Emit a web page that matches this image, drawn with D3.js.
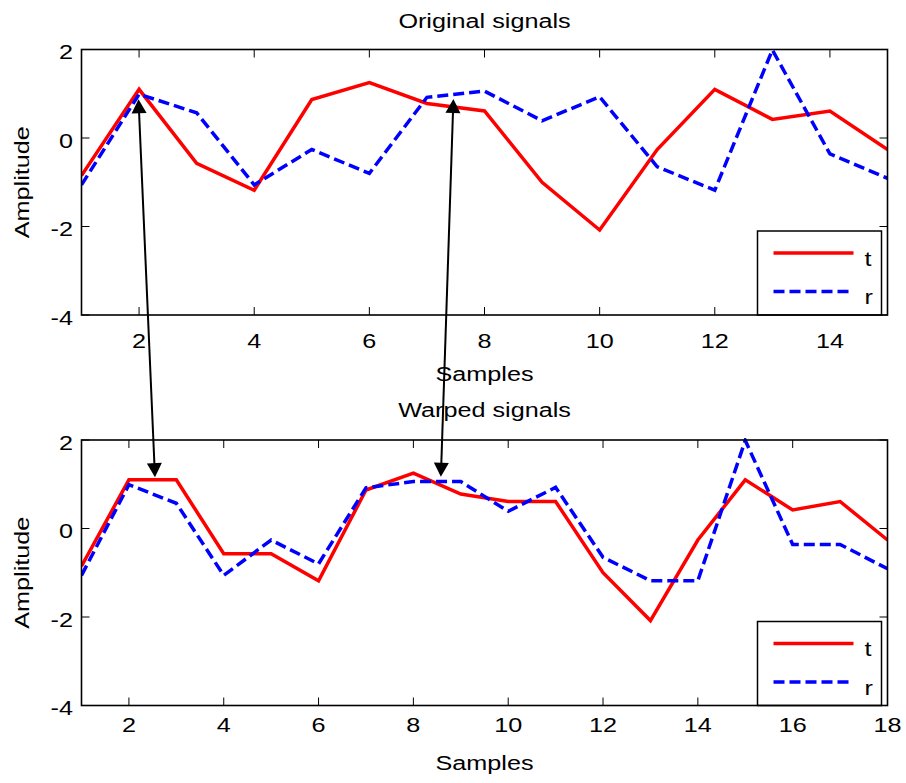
<!DOCTYPE html>
<html>
<head>
<meta charset="utf-8">
<script src="https://cdnjs.cloudflare.com/ajax/libs/d3/7.8.5/d3.min.js"></script>
<style>
  html, body { margin: 0; padding: 0; background: #fff; }
  svg { display: block; }
  text { font-family: "Liberation Sans", Arial, Helvetica, sans-serif; fill: #000; }
</style>
</head>
<body>
<svg id="chart" width="906" height="783"></svg>
<script>
// Original sequences (sample index 1..15)
const tOrig = [-0.85, 1.10, -0.57, -1.18, 0.87, 1.25, 0.78, 0.61, -1.00, -2.08, -0.26, 1.10, 0.42, 0.61, -0.26];
const rOrig = [-1.06, 0.99, 0.57, -1.06, -0.26, -0.80, 0.92, 1.06, 0.39, 0.93, -0.65, -1.18, 1.99, -0.36, -0.91];

// Sequences after alignment (sample index 1..18)
const tWarp = [-0.85, 1.10, 1.10, -0.57, -0.57, -1.18, 0.87, 1.25, 0.78, 0.61, 0.61, -1.00, -2.08, -0.26, 1.10, 0.42, 0.61, -0.26];
const rWarp = [-1.06, 0.99, 0.57, -1.06, -0.26, -0.80, 0.92, 1.06, 1.06, 0.39, 0.93, -0.65, -1.18, -1.18, 1.99, -0.36, -0.36, -0.91];

// Axis ticks
const yTicks = [-4, -2, 0, 2];
const xTicksOrig = [2, 4, 6, 8, 10, 12, 14];
const xTicksWarp = [2, 4, 6, 8, 10, 12, 14, 16, 18];

// Correspondence arrows: [sample, amplitude] in the upper panel -> lower panel
const arrowFrom = [[1.99, 0.875], [7.46, 0.88]];
const arrowTo   = [[2.55, 1.16], [8.58, 1.17]];

const legendNames = ["t", "r"];

const svg = d3.select("#chart");
svg.append("rect").attr("width", 906).attr("height", 783).attr("fill", "#fff");

const FS = 21, SX = 1.2;
function label(g, x, y, s, anchor, rot) {
  return g.append("text")
    .attr("transform", `translate(${x},${y})` + (rot ? ` rotate(${rot})` : "") + ` scale(${SX},1)`)
    .attr("text-anchor", anchor)
    .attr("font-size", FS)
    .text(s);
}

const panels = [
  { title: "Original signals", top: 49.5, bottom: 315, left: 81.5, right: 887.5,
    n: tOrig.length, ticks: xTicksOrig, t: tOrig, r: rOrig,
    titleBase: 28, tickBase: 348, xlabBase: 381 },
  { title: "Warped signals", top: 440, bottom: 705.5, left: 81.5, right: 887.5,
    n: tWarp.length, ticks: xTicksWarp, t: tWarp, r: rWarp,
    titleBase: 417, tickBase: 731.5, xlabBase: 770 }
];

panels.forEach(p => {
  p.x = d3.scaleLinear().domain([1, p.n]).range([p.left, p.right]);
  p.y = d3.scaleLinear().domain([-4, 2]).range([p.bottom, p.top]);
  const g = svg.append("g");
  const cx = (p.left + p.right) / 2;

  // clip region for data lines
  const clipId = "clip" + p.n;
  svg.append("clipPath").attr("id", clipId).append("rect")
    .attr("x", p.left).attr("y", p.top - 2)
    .attr("width", p.right - p.left).attr("height", p.bottom - p.top + 2);

  // data lines
  const line = d3.line().x((d, i) => p.x(i + 1)).y(d => p.y(d));
  g.append("path").datum(p.t).attr("d", line)
    .attr("fill", "none").attr("stroke", "#ff0000").attr("stroke-width", 3.5)
    .attr("clip-path", `url(#${clipId})`);
  g.append("path").datum(p.r).attr("d", line)
    .attr("fill", "none").attr("stroke", "#0000ff").attr("stroke-width", 3.5)
    .attr("stroke-dasharray", "11,5")
    .attr("clip-path", `url(#${clipId})`);

  // ticks (inward on all four sides)
  const tl = 8;
  p.ticks.forEach(v => {
    const xx = p.x(v);
    g.append("line").attr("x1", xx).attr("x2", xx).attr("y1", p.bottom).attr("y2", p.bottom - tl)
      .attr("stroke", "#000").attr("stroke-width", 1);
    g.append("line").attr("x1", xx).attr("x2", xx).attr("y1", p.top).attr("y2", p.top + tl)
      .attr("stroke", "#000").attr("stroke-width", 1);
    label(g, xx, p.tickBase, String(v), "middle");
  });
  yTicks.forEach(v => {
    const yy = p.y(v);
    g.append("line").attr("x1", p.left).attr("x2", p.left + tl).attr("y1", yy).attr("y2", yy)
      .attr("stroke", "#000").attr("stroke-width", 1);
    g.append("line").attr("x1", p.right).attr("x2", p.right - tl).attr("y1", yy).attr("y2", yy)
      .attr("stroke", "#000").attr("stroke-width", 1);
    label(g, 73, yy + 9.5, String(v), "end");
  });

  // legend
  const lx = p.right - 130, ly = p.bottom - 84;
  g.append("rect").attr("x", lx).attr("y", ly).attr("width", 124).attr("height", 84)
    .attr("fill", "#fff").attr("stroke", "#000").attr("stroke-width", 1.5);
  [["#ff0000", null], ["#0000ff", "11,5"]].forEach(([c, dash], i) => {
    const yy = ly + 22 + i * 38.5;
    g.append("line").attr("x1", lx + 16).attr("x2", lx + 96).attr("y1", yy).attr("y2", yy)
      .attr("stroke", c).attr("stroke-width", 3.5).attr("stroke-dasharray", dash);
    label(g, lx + 107, yy + 12.5, legendNames[i], "start");
  });

  // axes box
  g.append("rect").attr("x", p.left).attr("y", p.top)
    .attr("width", p.right - p.left).attr("height", p.bottom - p.top)
    .attr("fill", "none").attr("stroke", "#000").attr("stroke-width", 1.6);

  // titles and axis labels
  label(g, cx, p.titleBase, p.title, "middle");
  label(g, cx, p.xlabBase, "Samples", "middle");
  label(g, 29, (p.top + p.bottom) / 2, "Amplitude", "middle", -90);
});

// double-headed correspondence arrows
const upper = panels[0], lower = panels[1];
const ag = svg.append("g");
function head(tipX, tipY, ux, uy) {
  const L = 14, Wd = 7.5;
  const bx = tipX - ux * L, by = tipY - uy * L;
  const nx = -uy, ny = ux;
  return [[tipX, tipY], [bx + nx * Wd, by + ny * Wd], [bx - nx * Wd, by - ny * Wd]];
}
arrowFrom.forEach((a, i) => {
  const b = arrowTo[i];
  const x1 = upper.x(a[0]), y1 = upper.y(a[1]);
  const x2 = lower.x(b[0]), y2 = lower.y(b[1]);
  const len = Math.hypot(x2 - x1, y2 - y1);
  const ux = (x2 - x1) / len, uy = (y2 - y1) / len;
  ag.append("line")
    .attr("x1", x1 + ux * 12).attr("y1", y1 + uy * 12)
    .attr("x2", x2 - ux * 12).attr("y2", y2 - uy * 12)
    .attr("stroke", "#000").attr("stroke-width", 2);
  ag.append("polygon").attr("points", head(x2, y2, ux, uy).join(" ")).attr("fill", "#000");
  ag.append("polygon").attr("points", head(x1, y1, -ux, -uy).join(" ")).attr("fill", "#000");
});
</script>
</body>
</html>
